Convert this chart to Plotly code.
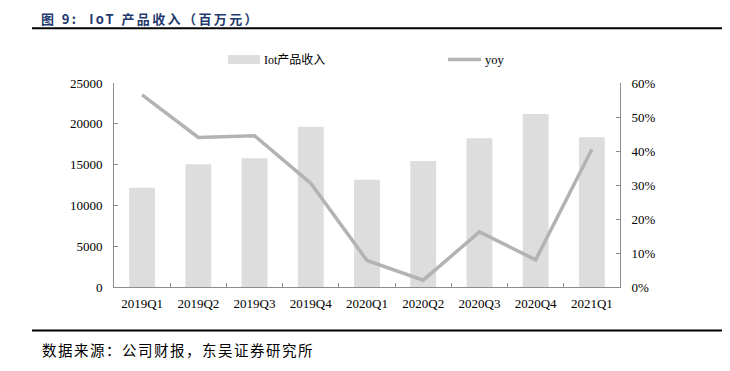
import plotly.graph_objects as go

categories = ["2019Q1", "2019Q2", "2019Q3", "2019Q4", "2020Q1", "2020Q2", "2020Q3", "2020Q4", "2021Q1"]
iot_revenue = [12150, 15050, 15780, 19650, 13140, 15430, 18240, 21210, 18350]
yoy = [0.565, 0.440, 0.445, 0.305, 0.078, 0.020, 0.162, 0.080, 0.405]

bar_name = "Iot产品收入"
line_name = "yoy"
title_text = "图 9:  IoT 产品收入（百万元）"
source_text = "数据来源：公司财报，东吴证券研究所"

BAR_COLOR = "#dddddd"
LINE_COLOR = "#b3b3b3"
AXIS_COLOR = "#8c8c8c"
SERIF = "Liberation Serif, Times New Roman, Noto Sans CJK SC, serif"
CJK = "Noto Sans CJK SC, sans-serif"

# page body has an 8px margin; work in page coordinates and shift
OFF = 8
W, H = 730 - OFF, 371 - OFF
L, R, T, B = 114 - OFF, 620 - OFF, 83 - OFF, 287.5 - OFF

def fx(px):
    return (px - OFF - L) / (R - L)

def fy(py):
    return (B - (py - OFF)) / (B - T)

fig = go.Figure()
fig.add_trace(go.Bar(x=categories, y=iot_revenue, name=bar_name, marker_color=BAR_COLOR,
                     marker_line_width=0, showlegend=False, yaxis="y"))
fig.add_trace(go.Scatter(x=categories, y=yoy, name=line_name, mode="lines",
                         line=dict(color=LINE_COLOR, width=3.5), showlegend=False, yaxis="y2"))

fig.update_layout(
    width=W, height=H,
    margin=dict(l=L, r=W - R, t=T, b=H - B),
    paper_bgcolor="white", plot_bgcolor="white",
    bargap=0.54,
    font=dict(family=SERIF, size=13, color="#000000"),
    xaxis=dict(type="category", showline=True, linecolor=AXIS_COLOR, linewidth=1,
               ticks="inside", ticklen=4, tickcolor=AXIS_COLOR, tickson="boundaries",
               showgrid=False, zeroline=False, ticklabelstandoff=4,
               tickfont=dict(family=SERIF, size=13)),
    yaxis=dict(range=[0, 25000], dtick=5000, showline=True, linecolor=AXIS_COLOR, linewidth=1,
               ticks="inside", ticklen=4, tickcolor=AXIS_COLOR, showgrid=False, zeroline=False,
               tickformat="d", ticklabelstandoff=8, tickfont=dict(family=SERIF, size=13)),
    yaxis2=dict(range=[0, 0.6], dtick=0.1, overlaying="y", side="right", showline=True,
                linecolor=AXIS_COLOR, linewidth=1, ticks="inside", ticklen=4, tickcolor=AXIS_COLOR,
                showgrid=False, zeroline=False, tickformat=".0%", ticklabelstandoff=8,
                tickfont=dict(family=SERIF, size=13)),
)

shapes = [
    dict(type="line", xref="paper", yref="paper", x0=fx(32), x1=fx(722), y0=fy(28), y1=fy(28),
         line=dict(color="#000000", width=2)),
    dict(type="line", xref="paper", yref="paper", x0=fx(32), x1=fx(722), y0=fy(331), y1=fy(331),
         line=dict(color="#000000", width=2)),
    dict(type="rect", xref="paper", yref="paper", x0=fx(228), x1=fx(260), y0=fy(64), y1=fy(55),
         fillcolor=BAR_COLOR, line_width=0),
    dict(type="line", xref="paper", yref="paper", x0=fx(448), x1=fx(481), y0=fy(59.5), y1=fy(59.5),
         line=dict(color=LINE_COLOR, width=3.5)),
]
fig.update_layout(shapes=shapes)

annotations = [
    dict(text=bar_name, xref="paper", yref="paper", x=fx(262), y=fy(59.5),
         xanchor="left", yanchor="middle", showarrow=False,
         font=dict(family=SERIF, size=12, color="#000000")),
    dict(text=line_name, xref="paper", yref="paper", x=fx(483), y=fy(59.5),
         xanchor="left", yanchor="middle", showarrow=False,
         font=dict(family=SERIF, size=12.5, color="#000000")),
    dict(text='<span style="letter-spacing:2.4px"><b>' + title_text + "</b></span>",
         xref="paper", yref="paper", x=fx(40),
         y=fy(8), xanchor="left", yanchor="top", showarrow=False, borderpad=0,
         font=dict(family="Noto Sans CJK SC, sans-serif", size=13, color="#1f3a6e")),
    dict(text='<span style="letter-spacing:1.5px">' + source_text + "</span>",
         xref="paper", yref="paper", x=fx(40),
         y=fy(350), xanchor="left", yanchor="middle", showarrow=False,
         font=dict(family=CJK, size=14.5, color="#000000")),
]
fig.update_layout(annotations=annotations)

fig.write_html("out.html")
